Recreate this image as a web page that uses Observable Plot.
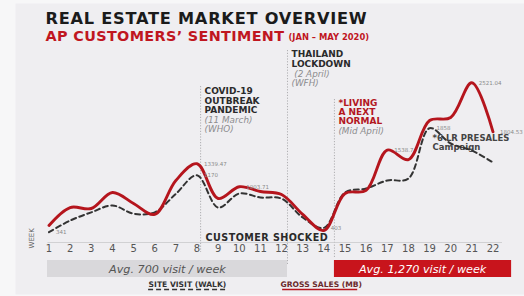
<!DOCTYPE html>
<html>
<head>
<meta charset="utf-8">
<script src="https://cdn.jsdelivr.net/npm/d3@7"></script>
<script src="https://cdn.jsdelivr.net/npm/@observablehq/plot@0.6"></script>
<style>
  html, body { margin: 0; padding: 0; background: #f7f7f8; }
  #chart svg { display: block; }
</style>
</head>
<body>
<div id="chart"></div>
<script>
// ---- data ----
const weeks = [1, 2, 3, 4, 5, 6, 7, 8, 9, 10, 11, 12, 13, 14, 15, 16, 17, 18, 19, 20, 21, 22];
const grossSales = [438, 700, 686, 920, 760, 600, 1095, 1339.47, 832, 1003.71, 934, 890, 600, 365, 905, 950, 1538.7, 1400, 1970, 2015, 2521.04, 1804.53];
const siteVisit = [341, 510, 630, 730, 610, 630, 900, 1170, 700, 905, 847, 830, 555, 403, 920, 978, 1095, 1124, 1858, 1635, 1533, 1358];

const salesLabelWeeks = [8, 10, 17, 21, 22];
const visitLabelWeeks = [1, 8, 14, 19];

const eventWeeks = [8.17, 12.28, 14.5];
const eventTitles = ["COVID-19\nOUTBREAK\nPANDEMIC", "THAILAND\nLOCKDOWN", "*LIVING\nA NEXT\nNORMAL"];
const eventNotes = ["(11 March)\n(WHO)", " (2 April)\n(WFH)", "(Mid April)"];

const periodLabels = ["Avg. 700 visit / week", "Avg. 1,270 visit / week"];
const legendLabels = ["SITE VISIT (WALK)", "GROSS SALES (MB)"];

const title = "REAL ESTATE MARKET OVERVIEW";
const subtitle = "AP CUSTOMERS\u2019 SENTIMENT";
const subtitlePeriod = "(JAN \u2013 MAY 2020)";
const shockNote = "CUSTOMER SHOCKED";
const campaignNote = "*6 LR PRESALES\nCampaign";

// ---- table ----
const rows = weeks.map((w, i) => ({week: w, sales: grossSales[i], visits: siteVisit[i]}));
const labelRows = [
  ...salesLabelWeeks.map(w => ({week: w, value: grossSales[weeks.indexOf(w)]})),
  ...visitLabelWeeks.map(w => ({week: w, value: siteVisit[weeks.indexOf(w)]}))
];

// ---- layout (pixels) ----
const W = 524, H = 296;
const RED = "#b5151d";
const titleTop = [87, 50, 98.5];
const noteTop = [115.5, 69.5, 126.5];
const lineTop = [86, 50, 99];
const lineBottom = [252, 264, 258];
const FONT = "DejaVu Sans";

const eventMarks = eventWeeks.flatMap((w, i) => [
  Plot.ruleX([w], {insetTop: lineTop[i], insetBottom: H - lineBottom[i], stroke: "#a8a8aa", strokeWidth: 0.9, strokeDasharray: "1.2,1.6"}),
  Plot.text([eventTitles[i]], {x: w, frameAnchor: "top", dx: 4, dy: titleTop[i], textAnchor: "start", lineAnchor: "top",
    fontSize: 9, fontWeight: "bold", lineHeight: 1.04, fill: i === 2 ? "#b3171f" : "#2a2a2a"}),
  Plot.text([eventNotes[i]], {x: w, frameAnchor: "top", dx: 4, dy: noteTop[i], textAnchor: "start", lineAnchor: "top",
    fontSize: 8.8, fontStyle: "italic", lineHeight: 1.05, fill: "#8c8c8e"})
]);

const chart = Plot.plot({
  width: W, height: H, margin: 0,
  style: {background: "transparent", fontFamily: FONT},
  x: {domain: [1, 22], range: [48.5, 492.5], axis: null},
  y: {domain: [0, 2500], range: [255, 83.75], axis: null},
  marks: [
    Plot.frame({fill: "#efeef1", stroke: null, insetLeft: 15, insetTop: 3, insetBottom: 2}),
    // titles
    Plot.text([title], {frameAnchor: "top-left", dx: 45, dy: 23.5, lineAnchor: "bottom", fontSize: 16.2, fontWeight: "bold", fill: "#1b1b1b"}),
    Plot.text([subtitle], {frameAnchor: "top-left", dx: 45, dy: 40.5, lineAnchor: "bottom", fontSize: 14.4, fontWeight: "bold", fill: "#c0161f"}),
    Plot.text([subtitlePeriod], {frameAnchor: "top-left", dx: 288, dy: 39.5, lineAnchor: "bottom", fontSize: 8.4, fontWeight: "bold", fill: "#c0161f"}),
    // event annotations
    ...eventMarks,
    Plot.text([campaignNote], {x: 19, frameAnchor: "top", dx: 3, dy: 134, textAnchor: "start", lineAnchor: "top",
      fontSize: 8.5, fontWeight: "bold", lineHeight: 1.1, fill: "#444"}),
    Plot.text([shockNote], {x: eventWeeks[0], frameAnchor: "bottom", dx: 5, dy: -59, textAnchor: "start", lineAnchor: "middle",
      fontSize: 9.6, fontWeight: "bold", fill: "#2a2a2a"}),
    // baseline
    Plot.ruleY([0], {x1: 0.95, x2: 22.45, dy: -13, stroke: "#c9c9cb", strokeWidth: 0.8}),
    // lines
    Plot.line(rows, {x: "week", y: "visits", stroke: "#333", strokeWidth: 2, strokeDasharray: "5,3.5", curve: "catmull-rom"}),
    Plot.line(rows, {x: "week", y: "sales", stroke: RED, strokeWidth: 2.9, curve: "catmull-rom"}),
    // value labels
    Plot.text(labelRows, {x: "week", y: "value", text: d => String(d.value), dx: 7, textAnchor: "start", fontSize: 5.5, fill: "#8a8a8a"}),
    // week ticks
    Plot.text(weeks, {x: d => d, frameAnchor: "bottom", dy: -48, text: d => String(d), lineAnchor: "middle", fontSize: 10, fill: "#555"}),
    Plot.text(["WEEK"], {frameAnchor: "bottom-left", dx: 33, dy: -48, rotate: -90, fontSize: 7, fill: "#666"}),
    // period bars
    Plot.rect([0], {x1: 0.93, x2: eventWeeks[1], insetTop: 260, insetBottom: 19, fill: "#d9d8db"}),
    Plot.rect([0], {x1: eventWeeks[2], x2: 22.88, insetTop: 260, insetBottom: 19, fill: "#c8141c"}),
    Plot.text([periodLabels[0]], {x: 6.6, frameAnchor: "bottom", dy: -27.5, lineAnchor: "middle", fontSize: 11.2, fontStyle: "italic", fill: "#555"}),
    Plot.text([periodLabels[1]], {x: 18.67, frameAnchor: "bottom", dy: -27.5, lineAnchor: "middle", fontSize: 11.2, fontStyle: "italic", fill: "#fff"}),
    // legend
    Plot.text([legendLabels[0]], {x: 5.71, frameAnchor: "bottom", dy: -11.5, textAnchor: "start", lineAnchor: "middle", fontSize: 7.6, fontWeight: "bold", fill: "#333"}),
    Plot.ruleY([0], {x1: 5.71, x2: 9.4, dy: 34, stroke: "#333", strokeWidth: 1.5, strokeDasharray: "5,3"}),
    Plot.text([legendLabels[1]], {x: 11.95, frameAnchor: "bottom", dy: -11.5, textAnchor: "start", lineAnchor: "middle", fontSize: 7.6, fontWeight: "bold", fill: "#6a2a2c"}),
    Plot.ruleY([0], {x1: 12.05, x2: 15.6, dy: 34, stroke: RED, strokeWidth: 1.5})
  ]
});
// letter spacing tweaks for the wide display face of the original
const spacing = new Map([[title, "0.75px"], [subtitle, "0.35px"], [shockNote, "0.45px"]]);
d3.select(chart).selectAll("text").each(function() {
  const s = spacing.get(this.textContent);
  if (s) this.style.letterSpacing = s;
});
document.getElementById("chart").appendChild(chart);
</script>
</body>
</html>
